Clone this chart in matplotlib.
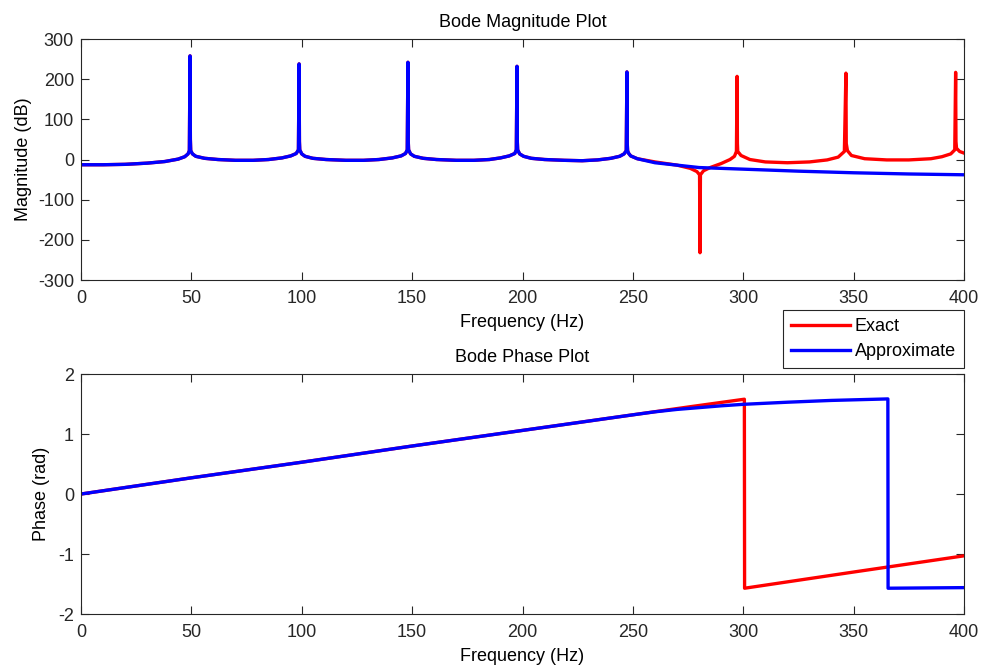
import numpy as np
import matplotlib
matplotlib.use("Agg")
import matplotlib.pyplot as plt

plt.rcParams['font.family'] = ['Liberation Sans', 'DejaVu Sans']
plt.rcParams['axes.unicode_minus'] = False

# magnitude (dB), shared part 0..250 Hz (exact and approximate overlap here)
freq_common = [0, 10, 20, 30, 38, 44, 47, 48.5, 49.1, 49.4, 49.55, 49.7, 50.5, 52, 56, 62, 70, 78,
               85, 91, 95, 97.5, 98.5, 98.8, 98.95, 99.1, 100, 101.5, 105, 111, 120, 128,
               135, 141, 145, 147, 147.8, 148.1, 148.25, 148.4, 149.3, 151, 155, 161, 170, 178,
               185, 190, 194, 196.5, 197.2, 197.5, 197.65, 197.8, 198.7, 200.5, 204, 210, 219, 227,
               234, 240, 244, 246, 247.0, 247.3, 247.45, 247.6, 248, 249, 252]
mag_common = [-13, -13, -12, -9, -5, 1, 7, 14, 22, 258, 50, 22, 14, 8, 3, 0, -2, -2,
              0, 4, 9, 15, 24, 238, 45, 24, 14, 8, 3, 0, -2, -2,
              0, 4, 9, 15, 24, 242, 45, 24, 14, 8, 3, 0, -2, -2,
              0, 4, 9, 15, 24, 232, 45, 24, 14, 8, 3, 0, -2, -3,
              -1, 3, 8, 14, 22, 218, 40, 22, 16, 9, 2]

# tails above 250 Hz
freq_exact_tail = [260, 270, 276, 279, 280.2, 280.4, 280.6, 282, 285, 290, 294, 296, 296.9, 297.2, 297.35,
                   297.5, 299, 303, 310, 320, 330, 338, 343, 345.8, 346.5, 346.65, 347.2, 349, 355,
                   365, 375, 385, 390, 394, 395.8, 396.2, 396.35, 396.6, 398, 400]
mag_exact_tail = [-6, -14, -22, -30, -38, -232, -38, -28, -20, -10, 0, 8, 20, 207, 40,
                  20, 10, 0, -6, -8, -6, -1, 6, 20, 215, 40, 22, 10, 2,
                  -1, -1, 2, 7, 14, 24, 217, 45, 28, 20, 16]
freq_approx_tail = [260, 270, 280, 300, 325, 350, 375, 400]
mag_approx_tail = [-8, -14, -20, -24, -29, -33, -36, -38]

# phase (rad)
freq_phase_exact = [0, 50, 100, 150, 200, 250, 275, 300.5, 300.6, 350, 400]
phase_exact = [0, 0.27, 0.53, 0.80, 1.06, 1.32, 1.45, 1.58, -1.57, -1.30, -1.03]
freq_phase_approx = [0, 50, 100, 150, 200, 250, 260, 270, 280, 290, 300, 320, 340, 365.5, 365.6, 400]
phase_approx = [0, 0.27, 0.53, 0.80, 1.06, 1.32, 1.37, 1.41, 1.44, 1.47, 1.495, 1.53, 1.56, 1.585, -1.57, -1.56]

f_exact = freq_common + freq_exact_tail
m_exact = mag_common + mag_exact_tail
f_approx = freq_common + freq_approx_tail
m_approx = mag_common + mag_approx_tail

fig = plt.figure(figsize=(9.84, 6.68), dpi=100)
ax1 = fig.add_axes([0.0823, 0.5808, 0.8974, 0.3608])
ax2 = fig.add_axes([0.0823, 0.0808, 0.8974, 0.3593])

fs = 13
lw = 2.4
l1, = ax1.plot(f_exact, m_exact, color='#ff0000', lw=lw, label='Exact')
l2, = ax1.plot(f_approx, m_approx, color='#0000ff', lw=lw, label='Approximate')
ax2.plot(freq_phase_exact, phase_exact, color='#ff0000', lw=lw)
ax2.plot(freq_phase_approx, phase_approx, color='#0000ff', lw=lw)

ax1.set_xlim(0, 400)
ax1.set_ylim(-300, 300)
ax1.set_xticks(range(0, 401, 50))
ax1.set_yticks(range(-300, 301, 100))
ax1.set_title('Bode Magnitude Plot', fontsize=fs, pad=9)
ax1.set_xlabel('Frequency (Hz)', fontsize=fs, labelpad=5)
ax1.set_ylabel('Magnitude (dB)', fontsize=fs, labelpad=4.5)

ax2.set_xlim(0, 400)
ax2.set_ylim(-2, 2)
ax2.set_xticks(range(0, 401, 50))
ax2.set_yticks([-2, -1, 0, 1, 2])
ax2.set_title('Bode Phase Plot', fontsize=fs, pad=9)
ax2.set_xlabel('Frequency (Hz)', fontsize=fs, labelpad=5)
ax2.set_ylabel('Phase (rad)', fontsize=fs, labelpad=6)

for ax in (ax1, ax2):
    ax.tick_params(direction='in', top=True, right=True, length=6, width=0.8,
                   labelsize=fs, pad=5, colors='#262626')
    ax.tick_params(axis='x', pad=7)
    for s in ax.spines.values():
        s.set_linewidth(0.8)
        s.set_color('#262626')

leg = fig.legend(handles=[l1, l2], loc='upper right',
                 bbox_to_anchor=(964 / 984, 1 - 310 / 668), fontsize=fs,
                 fancybox=False, framealpha=1, edgecolor='#262626',
                 borderpad=0.45, handlelength=3.3, handletextpad=0.25, labelspacing=0.45,
                 borderaxespad=0)
leg.get_frame().set_linewidth(0.8)

fig.savefig('out.png', dpi=100)
